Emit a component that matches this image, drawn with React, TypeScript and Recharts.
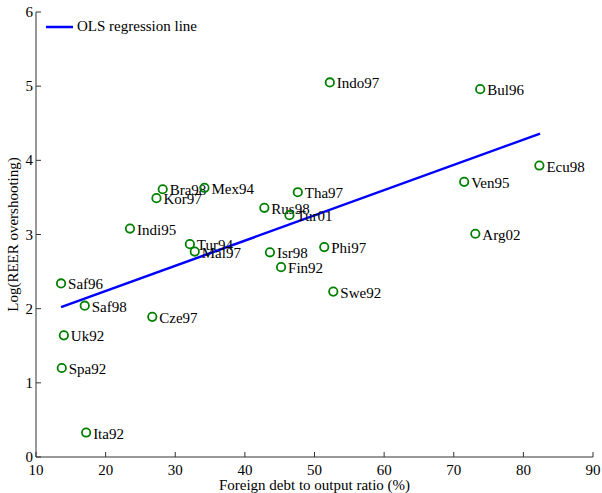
import React from "react";
import { ScatterChart, Scatter, XAxis, YAxis, Legend } from "recharts";

const names = ["Indo97","Bul96","Ecu98","Ven95","Arg02","Tha97","Phi97","Swe92","Bra98","Kor97","Mex94","Rus98","Tur01","Indi95","Tur94","Mal97","Isr98","Fin92","Saf96","Saf98","Cze97","Uk92","Spa92","Ita92"];
const debtRatio = [52.2,73.8,82.3,71.5,73.1,47.6,51.4,52.7,28.2,27.3,34.2,42.8,46.4,23.5,32.1,32.8,43.6,45.2,13.6,17.0,26.7,14.0,13.7,17.2];
const logReer = [5.05,4.96,3.93,3.71,3.01,3.57,2.83,2.23,3.61,3.49,3.63,3.36,3.26,3.08,2.87,2.77,2.76,2.56,2.34,2.04,1.89,1.64,1.20,0.33];

const olsX = [13.6, 82.4];
const olsY = [2.02, 4.36];

const xTicks = [10, 20, 30, 40, 50, 60, 70, 80, 90];
const yTicks = [0, 1, 2, 3, 4, 5, 6];

const points = names.map((n, i) => ({ name: n, x: debtRatio[i], y: logReer[i] }));
const olsLine = olsX.map((x, i) => ({ x, y: olsY[i] }));

const FONT = "'Liberation Serif', 'Times New Roman', serif";
const AXIS = "#333";

const XTick = (props: any) => {
  const { x, y, payload } = props;
  return (
    <g>
      <line x1={x} y1={y} x2={x} y2={y - 5} stroke={AXIS} strokeWidth={1} />
      <text x={x} y={y + 13} textAnchor="middle" dominantBaseline="central" fontFamily={FONT} fontSize={15} fill="#000">
        {payload.value}
      </text>
    </g>
  );
};

const YTick = (props: any) => {
  const { x, y, payload } = props;
  return (
    <g>
      <line x1={x} y1={y} x2={x + 5} y2={y} stroke={AXIS} strokeWidth={1} />
      <text x={x - 3} y={y} textAnchor="end" dominantBaseline="central" fontFamily={FONT} fontSize={15} fill="#000">
        {payload.value}
      </text>
    </g>
  );
};

const PointShape = (props: any) => {
  const { cx, cy, payload } = props;
  return (
    <g>
      <circle cx={cx} cy={cy} r={4.2} fill="none" stroke="#008000" strokeWidth={1.8} />
      <text x={cx + 7} y={cy + 1} dominantBaseline="central" fontFamily={FONT} fontSize={15} fill="#000">
        {payload.name}
      </text>
    </g>
  );
};

const LegendContent = () => (
  <div style={{ display: "flex", alignItems: "center", fontFamily: FONT, fontSize: 15, color: "#000", lineHeight: "17px" }}>
    <svg width={27} height={4} style={{ display: "block" }}>
      <line x1={0} y1={2} x2={27} y2={2} stroke="#0000ff" strokeWidth={2.5} />
    </svg>
    <span style={{ marginLeft: 4 }}>OLS regression line</span>
  </div>
);

export default function App() {
  return (
    <div style={{ position: "absolute", left: 0, top: 0, width: 602, height: 493, background: "#fff" }}>
      <ScatterChart width={602} height={493} margin={{ top: 12, right: 9, bottom: 0, left: 0 }}>
        <XAxis
          type="number"
          dataKey="x"
          domain={[10, 90]}
          ticks={xTicks}
          interval={0}
          height={36}
          tickSize={0}
          tickMargin={0}
          tick={<XTick />}
          axisLine={{ stroke: AXIS, strokeWidth: 1 }}
          tickLine={false}
          allowDataOverflow
          label={{ value: "Foreign debt to output ratio (%)", position: "insideBottom", offset: 3, style: { fontFamily: FONT, fontSize: 15, fill: "#000" } }}
        />
        <YAxis
          type="number"
          dataKey="y"
          domain={[0, 6]}
          ticks={yTicks}
          interval={0}
          width={36}
          tickSize={0}
          tickMargin={0}
          tick={<YTick />}
          axisLine={{ stroke: AXIS, strokeWidth: 1 }}
          tickLine={false}
          allowDataOverflow
          label={{ value: "Log(REER overshooting)", angle: -90, position: "insideLeft", offset: 13, style: { textAnchor: "middle", fontFamily: FONT, fontSize: 15, fill: "#000" } }}
        />
        <Legend
          layout="horizontal"
          verticalAlign="middle"
          align="center"
          content={<LegendContent />}
          wrapperStyle={{ top: 18, left: 46, width: "auto" }}
        />
        <Scatter
          data={olsLine}
          fill="#0000ff"
          line={{ stroke: "#0000ff", strokeWidth: 2.5 }}
          shape={() => <g />}
          isAnimationActive={false}
          legendType="none"
        />
        <Scatter data={points} fill="#008000" shape={<PointShape />} isAnimationActive={false} legendType="none" />
      </ScatterChart>
    </div>
  );
}
